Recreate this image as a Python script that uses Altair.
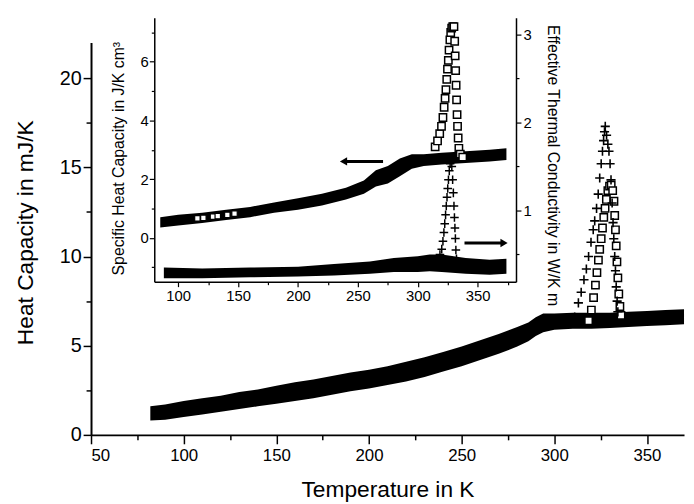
import altair as alt
import pandas as pd

# ---------------- data ----------------
# Main plot: broad band of overlapping markers (heat capacity, mJ/K)
main_T  = [82, 90, 100, 110, 120, 130, 140, 150, 160, 170, 180, 190, 200, 210, 220,
           230, 240, 250, 260, 270, 280, 286, 290, 294, 300, 310, 320, 330, 340, 350, 360, 370]
main_lo = [0.80, 0.85, 1.00, 1.15, 1.30, 1.45, 1.60, 1.75, 1.90, 2.05, 2.25, 2.45, 2.60, 2.80, 3.00,
           3.25, 3.55, 3.85, 4.20, 4.55, 4.95, 5.25, 5.55, 5.75, 5.90, 5.95, 5.95, 6.00, 6.05, 6.10, 6.15, 6.20]
main_hi = [1.60, 1.70, 1.90, 2.05, 2.20, 2.40, 2.55, 2.75, 2.95, 3.10, 3.30, 3.50, 3.65, 3.85, 4.10,
           4.35, 4.65, 4.95, 5.30, 5.65, 6.05, 6.30, 6.60, 6.80, 6.80, 6.85, 6.85, 6.85, 6.90, 6.95, 7.00, 7.05]

# Main plot: crosses of the peak
mc_T = [311.0, 313.0, 314.5, 316.0, 317.3, 318.5, 319.8, 321.0, 321.8, 322.8, 323.7, 324.5, 325.3, 326.0,
        326.6, 327.1, 327.5, 328.2, 328.9, 329.5, 330.1, 330.6, 331.2, 331.7, 332.1, 332.6, 333.0, 333.4,
        333.9, 334.3]
mc_v = [6.6, 7.4, 8.0, 8.7, 9.3, 10.0, 10.8, 11.5, 12.0, 12.7, 13.5, 14.4, 15.2, 15.9,
        16.5, 17.0, 17.3, 16.8, 16.3, 15.9, 15.2, 14.3, 13.0, 11.9, 11.0, 10.0, 9.2, 8.3,
        7.5, 6.9]
# Main plot: squares of the peak
ms_T = [318.5, 320.0, 321.2, 322.2, 323.0, 323.8, 324.5, 325.3, 326.0, 326.7, 327.4, 328.1, 328.9,
        329.8, 330.7, 331.5, 332.2, 332.6, 333.0, 333.4, 333.8, 334.3, 334.8, 335.4, 336.0]
ms_v = [6.4, 7.0, 7.7, 8.4, 9.1, 9.8, 10.4, 11.0, 11.6, 12.2, 12.7, 13.2, 13.7,
        13.95, 14.0, 13.7, 13.1, 12.3, 11.5, 10.6, 9.7, 8.8, 7.9, 7.2, 6.7]

# Inset: specific heat band (left axis, J/K cm3)
is_T  = [85, 100, 120, 140, 160, 180, 200, 220, 240, 255, 265, 275, 285, 295, 305, 320, 340, 360, 374]
is_lo = [0.35, 0.42, 0.50, 0.60, 0.70, 0.85, 0.95, 1.10, 1.30, 1.50, 1.75, 1.85, 2.10, 2.35, 2.45, 2.50, 2.55, 2.60, 2.65]
is_hi = [0.70, 0.78, 0.85, 0.95, 1.05, 1.20, 1.35, 1.50, 1.70, 1.95, 2.30, 2.45, 2.70, 2.85, 2.85, 2.90, 2.95, 3.00, 3.05]
# Inset: a few open squares visible inside the band
iso_T = [116, 121, 129, 133, 141, 147]
iso_v = [0.66, 0.68, 0.72, 0.74, 0.78, 0.82]
# Inset: squares of the peak (left axis)
isq_T = [314.5, 316.5, 318.3, 319.8, 321.0, 322.0, 322.8, 323.5, 324.2, 324.8, 325.5, 326.1, 326.8, 327.5,
         328.3, 329.2, 330.2, 330.8, 331.2, 331.6, 332.0, 332.4, 332.8, 333.2, 333.7, 334.3, 335.5, 337.5]
isq_v = [3.1, 3.3, 3.55, 3.8, 4.1, 4.45, 4.75, 5.05, 5.4, 5.75, 6.05, 6.4, 6.75, 7.0,
         7.15, 7.2, 7.2, 6.7, 6.2, 5.7, 5.2, 4.7, 4.2, 3.8, 3.4, 3.05, 2.85, 2.75]

# Inset: thermal conductivity band (right axis, W/K m)
ic_T  = [88, 120, 160, 200, 230, 260, 280, 300, 310, 320, 340, 360, 374]
ic_lo = [0.23, 0.23, 0.24, 0.25, 0.26, 0.28, 0.30, 0.30, 0.31, 0.30, 0.28, 0.27, 0.28]
ic_hi = [0.35, 0.34, 0.35, 0.36, 0.39, 0.42, 0.46, 0.48, 0.50, 0.50, 0.46, 0.44, 0.45]
# Inset: crosses of the peak (right axis)
icr_T = [316.5, 318.5, 320.0, 321.0, 321.8, 322.5, 323.2, 323.8, 324.4, 325.0, 325.6, 326.3, 327.0,
         327.7, 328.4, 329.1, 329.7, 330.2, 330.6, 331.0, 331.4, 331.8, 332.3]
icr_v = [0.45, 0.50, 0.56, 0.65, 0.75, 0.85, 0.95, 1.05, 1.15, 1.25, 1.35, 1.45, 1.53,
         1.58, 1.50, 1.35, 1.20, 1.05, 0.92, 0.80, 0.68, 0.55, 0.45]

# Arrows in the inset
arrowL_T = [238, 271]   # left-axis arrow, head at the first value
arrowL_y = 2.6
arrowR_T = [339, 372]   # right-axis arrow, head at the second value
arrowR_y = 0.63

# ---------------- chart ----------------
FONT = "Liberation Sans, Arial, Helvetica, sans-serif"
W, H = 600, 397

MX = alt.Scale(domain=[50, 370], range=[0, W], nice=False, zero=False)
MY = alt.Scale(domain=[0, 22], range=[H, 0], nice=False, zero=False)
IX = alt.Scale(domain=[80, 382], range=[64, 430], nice=False, zero=False)
IYL = alt.Scale(domain=[-1.5, 7.5], range=[242, -25], nice=False, zero=False)
IYR = alt.Scale(domain=[0.19, 3.19], range=[242, -25], nice=False, zero=False)


def tick_cond(test, major, minor):
    return {"condition": {"test": test, "value": major}, "value": minor}


common = dict(grid=False, domainColor="black", tickColor="black", labelColor="black",
              titleColor="black", labelFont=FONT, titleFont=FONT, titleFontWeight="normal")

ax_mx = alt.Axis(orient="bottom", title="Temperature in K", values=list(range(50, 371, 25)),
                 labelExpr="datum.value % 50 === 0 ? '' + datum.value : ''",
                 tickSize=tick_cond("datum.value % 50 === 0", 9, 5), tickWidth=1.5,
                 domainWidth=2, labelFontSize=17, labelPadding=4, titleFontSize=23,
                 titlePadding=15, **common)
ax_my = alt.Axis(orient="left", title="Heat Capacity in mJ/K",
                 values=[0, 2.5, 5, 7.5, 10, 12.5, 15, 17.5, 20],
                 labelExpr="datum.value % 5 === 0 ? '' + datum.value : ''",
                 tickSize=tick_cond("datum.value % 5 === 0", 8, 5), tickWidth=1.5,
                 domainWidth=2, labelFontSize=20, labelPadding=2, titleFontSize=23,
                 titlePadding=22, titleY=192, **common)
ax_ix = alt.Axis(orient="bottom", title=None, offset=-155, values=list(range(100, 381, 25)),
                 labelExpr="datum.value % 50 === 0 ? '' + datum.value : ''",
                 tickSize=tick_cond("datum.value % 50 === 0", 5, 3), tickWidth=1.2,
                 domainWidth=1.5, labelFontSize=15, labelPadding=2, **common)
ax_iyl = alt.Axis(orient="left", title="Specific Heat Capacity in J/K cm\u00b3", offset=-64,
                  values=[-1, 0, 1, 2, 3, 4, 5, 6, 7],
                  labelExpr="datum.value % 2 === 0 ? '' + datum.value : ''",
                  tickSize=tick_cond("datum.value % 2 === 0", 5, 3), tickWidth=1.2,
                  domainWidth=1.5, labelFontSize=15, labelPadding=1, titleFontSize=16,
                  titlePadding=14, titleY=117, **common)
ax_iyr = alt.Axis(orient="right", title="Effective Thermal Conductivity in W/K m", offset=-170,
                  values=[0.5, 1, 1.5, 2, 2.5, 3],
                  labelExpr="datum.value % 1 === 0 ? '' + datum.value : ''",
                  tickSize=tick_cond("datum.value % 1 === 0", 5, 3), tickWidth=1.2,
                  domainWidth=1.5, labelFontSize=15, labelPadding=2, titleFontSize=16,
                  titlePadding=14, titleY=124, **common)

df_main = pd.DataFrame({"T": main_T, "lo": main_lo, "hi": main_hi})
df_mc = pd.DataFrame({"T": mc_T, "v": mc_v})
df_ms = pd.DataFrame({"T": ms_T, "v": ms_v})
df_is = pd.DataFrame({"T": is_T, "lo": is_lo, "hi": is_hi})
df_iso = pd.DataFrame({"T": iso_T, "v": iso_v})
df_isq = pd.DataFrame({"T": isq_T, "v": isq_v})
df_ic = pd.DataFrame({"T": ic_T, "lo": ic_lo, "hi": ic_hi})
df_icr = pd.DataFrame({"T": icr_T, "v": icr_v})
df_aL = pd.DataFrame({"T": [arrowL_T[0]], "T2": [arrowL_T[1]], "y": [arrowL_y]})
df_aR = pd.DataFrame({"T": [arrowR_T[0]], "T2": [arrowR_T[1]], "y": [arrowR_y]})

CROSS = "M-1,0H1M0,-1V1"

main_band = alt.Chart(df_main).mark_area(color="black").encode(
    x=alt.X("T:Q", scale=MX, axis=ax_mx),
    y=alt.Y("lo:Q", scale=MY, axis=ax_my), y2="hi:Q")
main_sq = alt.Chart(df_ms).mark_point(shape="square", filled=True, fill="white", stroke="black",
                                       strokeWidth=1.5, size=55, opacity=1).encode(
    x=alt.X("T:Q", scale=MX, axis=None), y=alt.Y("v:Q", scale=MY, axis=None))
main_cr = alt.Chart(df_mc).mark_point(shape=CROSS, filled=False, stroke="black",
                                       strokeWidth=1.6, size=85, opacity=1).encode(
    x=alt.X("T:Q", scale=MX, axis=None), y=alt.Y("v:Q", scale=MY, axis=None))

ins_cband = alt.Chart(df_ic).mark_area(color="black").encode(
    x=alt.X("T:Q", scale=IX, axis=None),
    y=alt.Y("lo:Q", scale=IYR, axis=ax_iyr), y2="hi:Q")
ins_cr = alt.Chart(df_icr).mark_point(shape=CROSS, filled=False, stroke="black",
                                       strokeWidth=1.5, size=75, opacity=1).encode(
    x=alt.X("T:Q", scale=IX, axis=None), y=alt.Y("v:Q", scale=IYR, axis=None))
ins_sband = alt.Chart(df_is).mark_area(color="black").encode(
    x=alt.X("T:Q", scale=IX, axis=ax_ix),
    y=alt.Y("lo:Q", scale=IYL, axis=ax_iyl), y2="hi:Q")
ins_so = alt.Chart(df_iso).mark_point(shape="square", filled=True, fill="white", stroke="black",
                                       strokeWidth=1.2, size=30, opacity=1).encode(
    x=alt.X("T:Q", scale=IX, axis=None), y=alt.Y("v:Q", scale=IYL, axis=None))
ins_sq = alt.Chart(df_isq).mark_point(shape="square", filled=True, fill="white", stroke="black",
                                       strokeWidth=1.5, size=55, opacity=1).encode(
    x=alt.X("T:Q", scale=IX, axis=None), y=alt.Y("v:Q", scale=IYL, axis=None))

arrL = alt.Chart(df_aL).mark_rule(color="black", strokeWidth=3).encode(
    x=alt.X("T:Q", scale=IX, axis=None), x2="T2:Q", y=alt.Y("y:Q", scale=IYL, axis=None))
arrL_head = alt.Chart(df_aL).mark_point(shape="triangle-left", filled=True, color="black",
                                         size=70, opacity=1).encode(
    x=alt.X("T:Q", scale=IX, axis=None), y=alt.Y("y:Q", scale=IYL, axis=None))
arrR = alt.Chart(df_aR).mark_rule(color="black", strokeWidth=3).encode(
    x=alt.X("T:Q", scale=IX, axis=None), x2="T2:Q", y=alt.Y("y:Q", scale=IYR, axis=None))
arrR_head = alt.Chart(df_aR).mark_point(shape="triangle-right", filled=True, color="black",
                                         size=70, opacity=1).encode(
    x=alt.X("T2:Q", scale=IX, axis=None), y=alt.Y("y:Q", scale=IYR, axis=None))

chart = alt.layer(
    main_band, main_sq, main_cr,
    ins_cband, ins_cr, ins_sband, ins_so, ins_sq,
    arrL, arrL_head, arrR, arrR_head,
).resolve_scale(x="independent", y="independent").properties(
    width=W, height=H, autosize="none",
    padding={"left": 84, "top": 32, "right": 2, "bottom": 67},
    background="white",
).configure_view(stroke=None)

chart.save("out.html", embed_options={"renderer": "svg", "actions": False})
